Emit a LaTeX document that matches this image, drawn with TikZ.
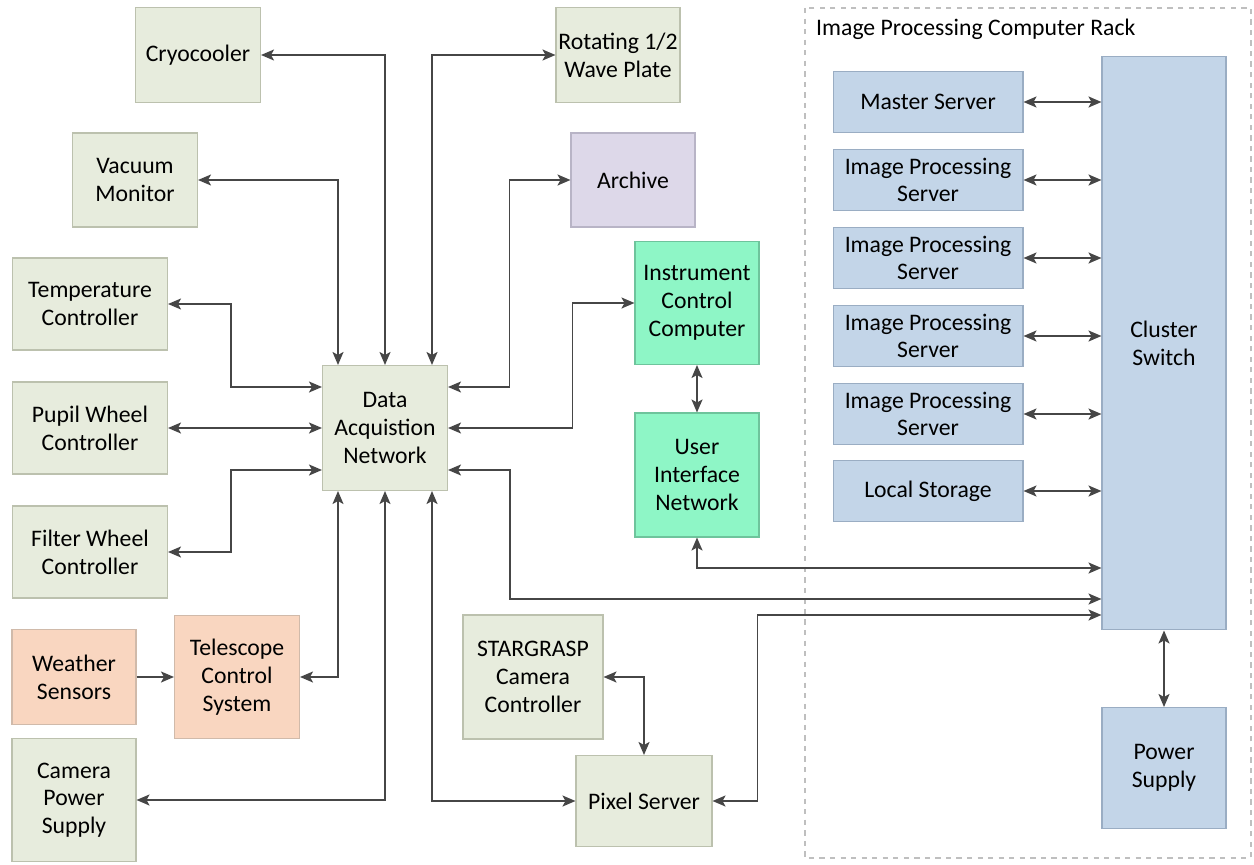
\documentclass[tikz,border=0pt]{standalone}
\usepackage{fontspec}
\setmainfont{Carlito}
\usetikzlibrary{arrows.meta,calc}
\definecolor{olv}{RGB}{231,236,221}
\definecolor{olvd}{RGB}{188,193,174}
\definecolor{peach}{RGB}{249,214,192}
\definecolor{peachd}{RGB}{208,186,170}
\definecolor{lilac}{RGB}{221,216,233}
\definecolor{lilacd}{RGB}{184,180,198}
\definecolor{mint}{RGB}{142,246,198}
\definecolor{mintd}{RGB}{110,196,156}
\definecolor{sky}{RGB}{195,213,232}
\definecolor{skyd}{RGB}{154,173,195}
\definecolor{wire}{RGB}{70,70,70}
\tikzset{
  box/.style={rectangle,draw,line width=0.6pt,inner sep=0pt,align=center,
    font=\fontsize{13.5}{15.8}\selectfont},
  gbox/.style={box,draw=olvd,fill=olv},
  obox/.style={box,draw=peachd,fill=peach},
  pbox/.style={box,draw=lilacd,fill=lilac},
  mbox/.style={box,draw=mintd,fill=mint},
  bbox/.style={box,draw=skyd,fill=sky},
  srv/.style={bbox,minimum width=3.8cm,minimum height=1.22cm},
  link/.style={draw=wire,line width=1.1pt},
}
\begin{document}
\begin{tikzpicture}[x=0.02cm,y=-0.02cm,>={Stealth[length=2.6mm,width=2.2mm,inset=0.6mm]}]
\useasboundingbox (0,0) rectangle (1254,865);
% rack frame
\draw[dashed,draw=black!25,line width=0.6pt] (805,8) rectangle (1251,858);
\node[anchor=west,font=\fontsize{13.5}{15.8}\selectfont] (rack) at (810,29) {Image Processing Computer Rack};
% left column
\node[gbox,minimum width=2.5cm,minimum height=1.9cm] (cryo) at (198,55) {Cryocooler};
\node[gbox,minimum width=2.5cm,minimum height=1.88cm] (vac) at (135,180) {Vacuum\\Monitor};
\node[gbox,minimum width=3.1cm,minimum height=1.84cm] (temp) at (90,304) {Temperature\\Controller};
\node[gbox,minimum width=3.1cm,minimum height=1.84cm] (pupil) at (90,428) {Pupil Wheel\\Controller};
\node[gbox,minimum width=3.1cm,minimum height=1.84cm] (filt) at (90,552) {Filter Wheel\\Controller};
\node[obox,minimum width=2.48cm,minimum height=1.9cm] (wea) at (74,677) {Weather\\Sensors};
\node[obox,minimum width=2.5cm,minimum height=2.46cm] (tcs) at (237,677) {Telescope\\Control\\System};
\node[gbox,minimum width=2.48cm,minimum height=2.46cm] (cps) at (74,800) {Camera\\Power\\Supply};
% centre
\node[gbox,minimum width=2.5cm,minimum height=2.5cm] (dan) at (385,428) {Data\\Acquistion\\Network};
\node[gbox,minimum width=2.48cm,minimum height=1.9cm] (wave) at (618,55) {Rotating 1/2\\Wave Plate};
\node[pbox,minimum width=2.48cm,minimum height=1.88cm] (arch) at (633,180) {Archive};
\node[mbox,minimum width=2.48cm,minimum height=2.46cm] (icc) at (697,303) {Instrument\\Control\\Computer};
\node[mbox,minimum width=2.48cm,minimum height=2.48cm] (uin) at (697,475) {User\\Interface\\Network};
\node[gbox,minimum width=2.8cm,minimum height=2.48cm] (sgc) at (533,677) {STARGRASP\\Camera\\Controller};
\node[gbox,minimum width=2.72cm,minimum height=1.82cm] (pix) at (644,801) {Pixel Server};
% rack contents
\node[srv] (mast) at (928,102) {Master Server};
\node[srv] (ips1) at (928,180) {Image Processing\\Server};
\node[srv] (ips2) at (928,258) {Image Processing\\Server};
\node[srv] (ips3) at (928,336) {Image Processing\\Server};
\node[srv] (ips4) at (928,414) {Image Processing\\Server};
\node[srv] (stor) at (928,491) {Local Storage};
\node[bbox,minimum width=2.48cm,minimum height=11.48cm] (csw) at (1164,343) {Cluster\\Switch};
\node[bbox,minimum width=2.48cm,minimum height=2.42cm] (psu) at (1164,768) {Power\\Supply};
% links into the acquisition network
\draw[link,<->] (cryo.east) -| (dan.north);
\draw[link,<->] (vac.east) -| ($(dan.north)+(-47,0)$);
\draw[link,<->] (wave.west) -| ($(dan.north)+(47,0)$);
\draw[link,<->] (temp.east) -- ++(63,0) |- ($(dan.west)+(0,-41)$);
\draw[link,<->] (pupil.east) -- (dan.west);
\draw[link,<->] (filt.east) -- ++(63,0) |- ($(dan.west)+(0,42)$);
\draw[link,<->] (arch.west) -- ++(-61,0) |- ($(dan.east)+(0,-41)$);
\draw[link,<->] (icc.west) -- ++(-62,0) |- (dan.east);
\draw[link,<->] (tcs.east) -| ($(dan.south)+(-47,0)$);
\draw[link,<->] (cps.east) -| (dan.south);
\draw[link,<->] (pix.west) -| ($(dan.south)+(47,0)$);
\draw[link,->] (wea.east) -- (tcs.west);
% links to the cluster switch
\draw[link,<->] ($(dan.east)+(0,42)$) -- ++(62,0) |- ($(csw.west)+(0,256)$);
\draw[link,<->] (uin.south) |- ($(csw.west)+(0,225)$);
\draw[link,<->] (pix.east) -- ++(45,0) |- ($(csw.west)+(0,272)$);
\draw[link,<->] (icc.south) -- (uin.north);
\draw[link,<->] (sgc.east) -| (pix.north);
\foreach \s in {mast,ips1,ips2,ips3,ips4,stor}
  \draw[link,<->] (\s.east) -- (\s.east -| csw.west);
\draw[link,<->] (csw.south) -- (psu.north);
\end{tikzpicture}
\end{document}
